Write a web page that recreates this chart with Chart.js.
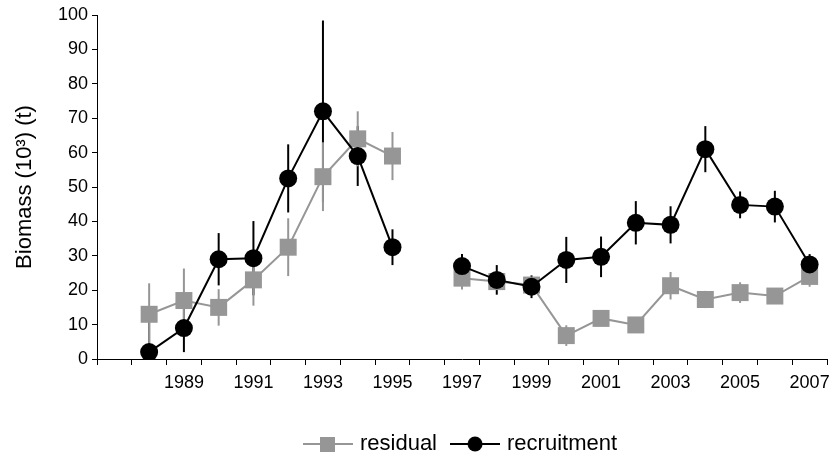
<!DOCTYPE html>
<html>
<head>
<meta charset="utf-8">
<script src="https://cdn.jsdelivr.net/npm/chart.js@4"></script>
<style>
  html, body { margin: 0; padding: 0; background: #fff; }
  #wrap { width: 832px; height: 459px; }
</style>
</head>
<body>
<div id="wrap"><canvas id="biomassChart"></canvas></div>
<script>
// categories (1987 has no data, 1996 is a gap)
const years = ['1987', '1988', '1989', '1990', '1991', '1992', '1993', '1994', '1995', '1996',
    '1997', '1998', '1999', '2000', '2001', '2002', '2003', '2004', '2005', '2006', '2007'];
const tickYears = ['1989', '1991', '1993', '1995', '1997', '1999', '2001', '2003', '2005', '2007'];

const residual = [null, 13, 17, 15, 23, 32.5, 53, 64, 59, null,
    23.5, 22.5, 21.5, 6.8, 11.8, 9.9, 21.3, 17.3, 19.3, 18.3, 24];
const residualErr = [null, 9, 9.3, 5.3, 7.5, 8.4, 10, 8, 7, null,
    3.3, 2, 2, 3, 2, 1.5, 4, 2.5, 3, 1.5, 3];

const recruitment = [null, 2, 9, 29, 29.3, 52.5, 72, 59, 32.5, null,
    27, 23, 21, 28.8, 29.7, 39.6, 39, 61, 44.8, 44.3, 27.5];
const recruitmentErr = [null, 9, 7, 7.6, 10.8, 9.9, 26.4, 8.7, 5.2, null,
    3.5, 4.3, 3.3, 6.7, 5.9, 6.3, 5.4, 6.7, 3.9, 4.6, 3];

const yTicks = [0, 10, 20, 30, 40, 50, 60, 70, 80, 90, 100];

const gray = '#969696';
const black = '#000000';

// little line + marker pictures for the legend
function legendIcon(color, shape) {
    var c = document.createElement('canvas');
    c.width = 50;
    c.height = 16;
    var ctx = c.getContext('2d');
    ctx.strokeStyle = color;
    ctx.lineWidth = 2;
    ctx.beginPath();
    ctx.moveTo(0, 8);
    ctx.lineTo(50, 8);
    ctx.stroke();
    ctx.fillStyle = color;
    if (shape === 'rect') {
        ctx.fillRect(17, 1, 15, 15);
    } else {
        ctx.beginPath();
        ctx.arc(25, 8, 7.5, 0, Math.PI * 2);
        ctx.fill();
    }
    return c;
}

const errorBars = {
    id: 'errorBars',
    beforeDatasetsDraw(chart) {
        const ctx = chart.ctx;
        const yScale = chart.scales.y;
        const area = chart.chartArea;
        const order = [1, 0];
        ctx.save();
        ctx.beginPath();
        ctx.rect(area.left, area.top - 5, area.right - area.left, area.bottom - area.top + 5);
        ctx.clip();
        order.forEach(function (di) {
            const ds = chart.data.datasets[di];
            const meta = chart.getDatasetMeta(di);
            ctx.strokeStyle = ds.borderColor;
            ctx.lineWidth = 2;
            ds.data.forEach(function (v, i) {
                if (v === null) return;
                const e = ds.errors[i];
                const x = meta.data[i].x;
                ctx.beginPath();
                ctx.moveTo(x, yScale.getPixelForValue(v + e));
                ctx.lineTo(x, yScale.getPixelForValue(v - e));
                ctx.stroke();
            });
        });
        ctx.restore();
    }
};

// center the legend under the plot area instead of the whole canvas
const moveLegend = {
    id: 'moveLegend',
    afterLayout(chart) {
        const lg = chart.legend;
        const area = chart.chartArea;
        const dx = (area.left + area.right) / 2 - (lg.left + lg.right) / 2;
        lg.left += dx;
        lg.right += dx;
        lg.top += 6;
        lg.bottom += 6;
    }
};

new Chart(document.getElementById('biomassChart'), {
    type: 'line',
    data: {
        labels: years,
        datasets: [{
            label: 'residual',
            data: residual,
            errors: residualErr,
            borderColor: gray,
            backgroundColor: gray,
            borderWidth: 2,
            pointStyle: 'rect',
            pointRadius: 12,
            pointBorderWidth: 0,
            order: 2,
            legendIcon: legendIcon(gray, 'rect')
        }, {
            label: 'recruitment',
            data: recruitment,
            errors: recruitmentErr,
            borderColor: black,
            backgroundColor: black,
            borderWidth: 2,
            pointStyle: 'circle',
            pointRadius: 9,
            pointBorderWidth: 0,
            order: 1,
            legendIcon: legendIcon(black, 'circle')
        }]
    },
    options: {
        responsive: true,
        maintainAspectRatio: false,
        animation: false,
        spanGaps: false,
        layout: {
            autoPadding: false,
            padding: { top: 15, right: 5, left: 0, bottom: 0 }
        },
        scales: {
            x: {
                type: 'category',
                offset: true,
                afterFit: function (scale) {
                    scale.height = 51;
                    scale.paddingRight = 0;
                    scale.paddingLeft = 0;
                },
                grid: {
                    offset: true,
                    drawOnChartArea: false,
                    drawTicks: true,
                    tickLength: 6,
                    tickColor: black,
                    tickWidth: 1
                },
                border: { color: black, width: 1 },
                ticks: {
                    autoSkip: false,
                    maxRotation: 0,
                    padding: 7,
                    color: '#000',
                    font: { family: 'Liberation Sans', size: 18 },
                    callback: function (val, idx) {
                        return tickYears.includes(years[idx]) ? years[idx] : '';
                    }
                }
            },
            y: {
                min: 0,
                max: 100,
                afterFit: function (scale) { scale.width = 97; },
                afterBuildTicks: function (scale) {
                    scale.ticks = yTicks.map(function (v) { return { value: v }; });
                },
                grid: {
                    drawOnChartArea: false,
                    drawTicks: true,
                    tickLength: 5,
                    tickColor: black
                },
                border: { color: black, width: 1 },
                ticks: {
                    padding: 4,
                    color: '#000',
                    font: { family: 'Liberation Sans', size: 18 }
                },
                title: {
                    display: true,
                    text: 'Biomass (10³) (t)',
                    color: '#000',
                    padding: { top: 12, bottom: 0 },
                    font: { family: 'Liberation Sans', size: 22 }
                }
            }
        },
        plugins: {
            legend: {
                position: 'bottom',
                labels: {
                    usePointStyle: true,
                    pointStyleWidth: 42,
                    padding: 17,
                    color: '#000',
                    font: { family: 'Liberation Sans', size: 22 },
                    sort: function (a, b) { return a.datasetIndex - b.datasetIndex; },
                    generateLabels: function (chart) {
                        return chart.data.datasets.map(function (ds, i) {
                            return {
                                text: ds.label,
                                pointStyle: ds.legendIcon,
                                fillStyle: ds.borderColor,
                                strokeStyle: ds.borderColor,
                                lineWidth: 0,
                                fontColor: '#000',
                                hidden: false,
                                datasetIndex: i
                            };
                        });
                    }
                }
            },
            tooltip: { enabled: false }
        }
    },
    plugins: [errorBars, moveLegend]
});
</script>
</body>
</html>
